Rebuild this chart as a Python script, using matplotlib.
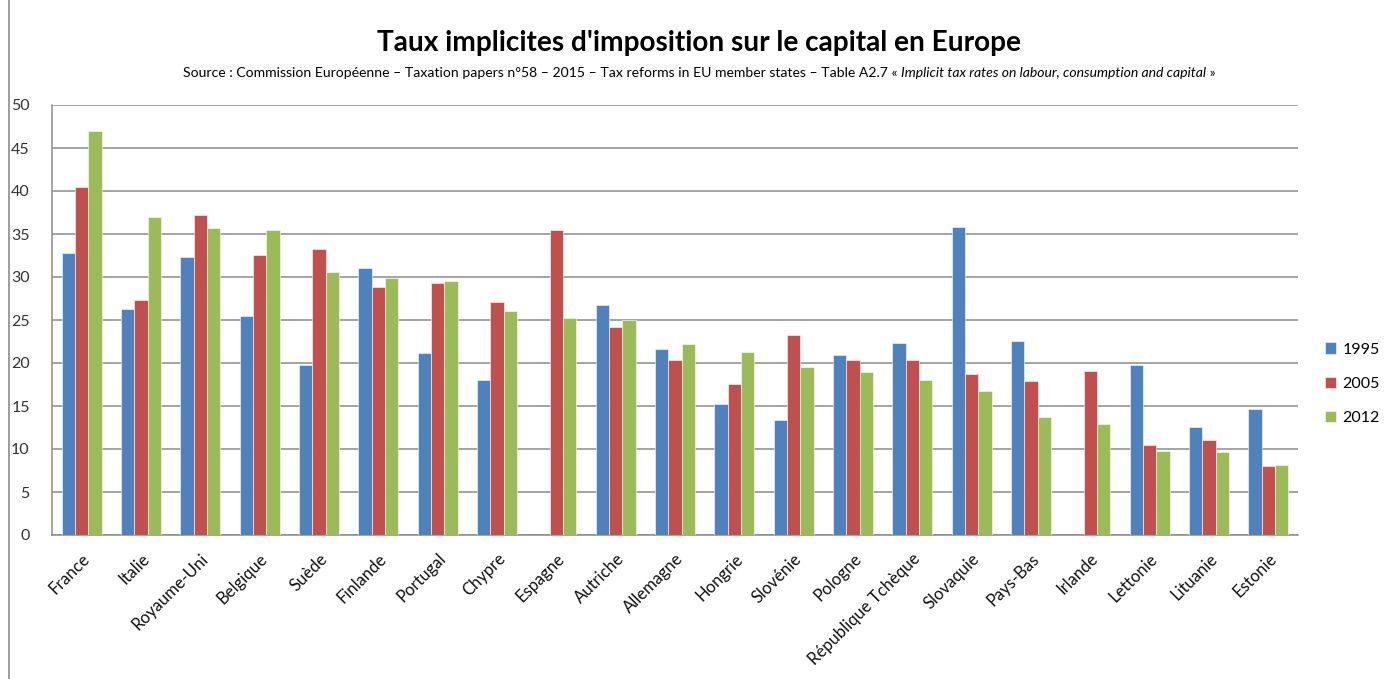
import matplotlib
matplotlib.use("Agg")
import matplotlib.pyplot as plt
import matplotlib.transforms as mtransforms
import numpy as np
from matplotlib.lines import Line2D

countries = ["France", "Italie", "Royaume-Uni", "Belgique", "Suède", "Finlande",
             "Portugal", "Chypre", "Espagne", "Autriche", "Allemagne", "Hongrie",
             "Slovénie", "Pologne", "République Tchèque", "Slovaquie", "Pays-Bas",
             "Irlande", "Lettonie", "Lituanie", "Estonie"]
years = ["1995", "2005", "2012"]
v1995 = [32.8, 26.3, 32.3, 25.5, 19.8, 31.0, 21.2, 18.0, np.nan, 26.8, 21.6, 15.2,
         13.4, 20.9, 22.3, 35.8, 22.6, np.nan, 19.8, 12.6, 14.7]
v2005 = [40.5, 27.3, 37.2, 32.6, 33.3, 28.8, 29.3, 27.1, 35.5, 24.2, 20.4, 17.6,
         23.2, 20.4, 20.4, 18.7, 17.9, 19.1, 10.5, 11.1, 8.0]
v2012 = [47.0, 37.0, 35.7, 35.5, 30.6, 29.9, 29.5, 26.0, 25.2, 25.0, 22.2, 21.3,
         19.5, 19.0, 18.0, 16.7, 13.7, 12.9, 9.8, 9.7, 8.1]
colors = ["#4F81BD", "#C0504D", "#9BBB59"]
yticks = [0, 5, 10, 15, 20, 25, 30, 35, 40, 45, 50]

plt.rcParams['font.family'] = ['Lato', 'DejaVu Sans']

fig = plt.figure(figsize=(13.87, 6.79), dpi=100)
ax = fig.add_axes([52/1387, 1 - 535/679, (1298-52)/1387, (535-105)/679])

x = np.arange(len(countries))
w = 0.225
for i, (vals, c) in enumerate(zip([v1995, v2005, v2012], colors)):
    ax.bar(x + (i - 1) * w, vals, width=w, color=c, edgecolor='white', linewidth=0.4,
           label=years[i], zorder=3)

ax.set_xlim(-0.5, len(countries) - 0.5)
ax.set_ylim(0, 50)
ax.set_yticks(yticks)
ax.set_yticklabels([str(t) for t in yticks], fontsize=11.5, color='#333333')
ax.yaxis.grid(True, color='#8c8c8c', linewidth=1.1, zorder=0)
ax.tick_params(axis='y', length=0, pad=16)
ax.tick_params(axis='x', length=0, pad=4)
ax.set_xticks(x)
ax.set_xticklabels(countries, rotation=45, ha='right', va='top',
                   rotation_mode='anchor', fontsize=12, color='#111111')
off = mtransforms.ScaledTranslation(0, -10/100, fig.dpi_scale_trans)
for lbl in ax.get_xticklabels():
    lbl.set_transform(lbl.get_transform() + off)
for s in ['top', 'right']:
    ax.spines[s].set_visible(False)
for s in ['left', 'bottom']:
    ax.spines[s].set_color('#8c8c8c')
    ax.spines[s].set_linewidth(1.1)

leg = ax.legend(loc='center left', bbox_to_anchor=(1.01, 0.352), frameon=False,
                fontsize=11.5, handlelength=0.7, handleheight=0.7, handletextpad=0.4,
                labelspacing=1.25)

fig.text(0.504, 0.937, "Taux implicites d'imposition sur le capital en Europe",
         ha='center', va='center', fontsize=20.2, fontweight='bold')

# subtitle: regular part + italic part
part1 = "Source : Commission Européenne – Taxation papers n°58 – 2015 – Tax reforms in EU member states – Table A2.7 « "
part2 = "Implicit tax rates on labour, consumption and capital"
part3 = " »"
fs = 10.1
t1 = fig.text(0, 0.893, part1, ha='left', va='center', fontsize=fs)
t2 = fig.text(0, 0.893, part2, ha='left', va='center', fontsize=fs, style='italic')
t3 = fig.text(0, 0.893, part3, ha='left', va='center', fontsize=fs)
fig.canvas.draw()
r = fig.canvas.get_renderer()
w1 = t1.get_window_extent(r).width
w2 = t2.get_window_extent(r).width
w3 = t3.get_window_extent(r).width
total = w1 + w2 + w3
start = 0.504 * fig.bbox.width - total / 2
t1.set_x(start / fig.bbox.width)
t2.set_x((start + w1) / fig.bbox.width)
t3.set_x((start + w1 + w2) / fig.bbox.width)

fig.add_artist(Line2D([9/1387, 9/1387], [0, 1], color='#8c8c8c', linewidth=1.2,
                      transform=fig.transFigure))

fig.savefig("out.png", dpi=100, facecolor='white')
